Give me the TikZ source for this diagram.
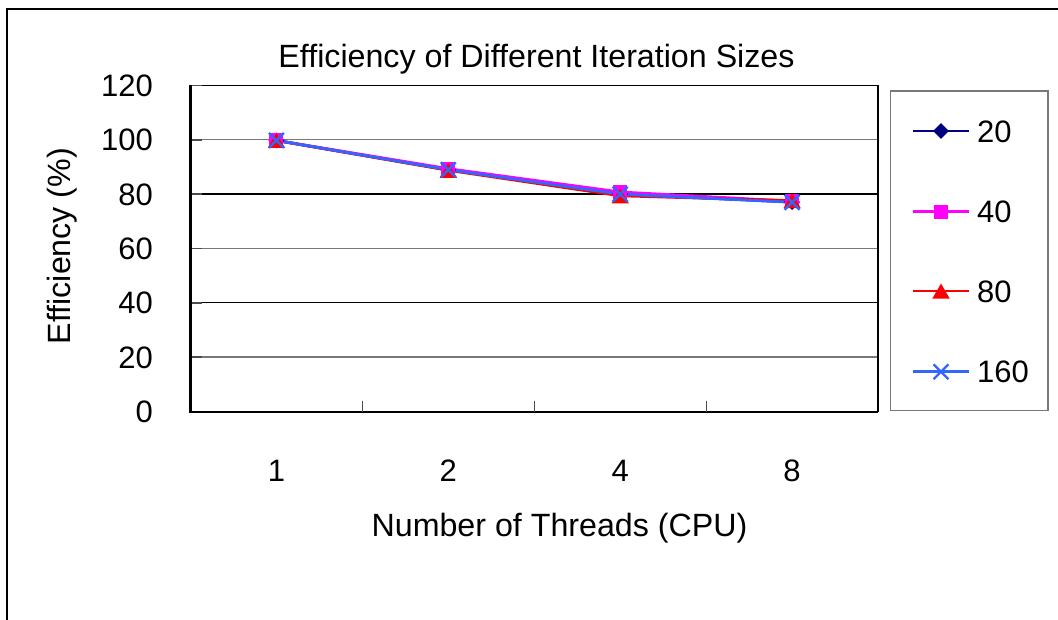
\documentclass[tikz,border=0pt]{standalone}
\usepackage{fontspec}
\setmainfont{Liberation Sans}
\usetikzlibrary{shapes.geometric,shapes.misc}
\definecolor{snavy}{RGB}{0,0,128}
\definecolor{smag}{RGB}{255,0,255}
\definecolor{sred}{RGB}{255,0,0}
\definecolor{sblue}{RGB}{51,102,255}
\definecolor{gridgray}{RGB}{120,120,120}
\begin{document}
\begin{tikzpicture}[x=1pt,y=-1pt,
  txt/.style={font=\fontsize{31}{37}\selectfont,inner sep=0pt},
  ttl/.style={font=\fontsize{32.2}{38}\selectfont,inner sep=0pt},
  gridline/.style={gridgray,line width=1.2pt},
  gridblack/.style={black,line width=1.2pt},
  serline/.style={line width=2.8pt},
  mdia/.style={diamond,fill=snavy,minimum size=16pt,inner sep=0pt},
  msq/.style={rectangle,fill=smag,minimum size=14pt,inner sep=0pt},
  mtri/.style={regular polygon,regular polygon sides=3,fill=sred,minimum size=20pt,inner sep=0pt,yshift=-2.5pt},
  mx/.style={cross out,draw=sblue,line width=2.4pt,minimum size=12.5pt,inner sep=0pt}]
\useasboundingbox (0,0) rectangle (1058,619);
% outer frame
\draw[line width=1.6pt] (7,625) -- (7,9) -- (1065,9);
% title
\node[ttl,anchor=base] (title) at (536.5,67) {Efficiency of Different Iteration Sizes};
% grid lines
\draw[gridline] (190.5,139.75) -- (878,139.75);
\draw[gridblack] (190.5,194) -- (878,194);
\draw[gridline] (190.5,248.5) -- (878,248.5);
\draw[gridblack] (190.5,302.7) -- (878,302.7);
\draw[gridline] (190.5,357) -- (878,357);
% plot frame
\draw[line width=1.4pt] (190.5,85.5) -- (878,85.5) -- (878,411.7);
\draw[line width=1.8pt] (190.5,411.7) -- (878,411.7);
% y ticks (inward)
\foreach \yy in {85.5,139.75,194,248.5,302.7,357}
  \draw[line width=1.6pt,black!70] (190.5,\yy) -- (201.5,\yy);
% x ticks (inward)
\foreach \xx in {362.4,534.3,706.2}
  \draw[line width=1.4pt,black!70] (\xx,411.7) -- (\xx,401);
\draw[line width=2.6pt] (190.5,84.5) -- (190.5,413);
% y tick labels
\foreach \v/\yy in {120/85.5,100/139.75,80/194,60/248.5,40/302.7,20/357,0/411.7}
  \node[txt,anchor=base east] (yl\v) at (153,\yy+11) {\v};
% x tick labels
\foreach \lab/\xx in {1/276.4,2/448.3,4/620.2,8/792.1}
  \node[txt,anchor=base] (xl\lab) at (\xx,481) {\lab};
% axis titles
\node[ttl,anchor=base] (xtitle) at (559.5,536) {Number of Threads (CPU)};
\node[ttl,rotate=90] (ytitle) at (62,246) {Efficiency (\%)};
% data coordinates
\foreach \s/\va/\vb/\vc/\vd in {a/100/89.2/80.3/77.3, b/100/89.6/81.0/77.6, c/100/89.0/79.6/77.8, d/100/89.2/80.2/77.2}{
  \coordinate (\s1) at (276.4,{411.7-2.7125*\va});
  \coordinate (\s2) at (448.3,{411.7-2.7125*\vb});
  \coordinate (\s3) at (620.2,{411.7-2.7125*\vc});
  \coordinate (\s4) at (792.1,{411.7-2.7125*\vd});
}
\draw[serline,snavy] (a1) -- (a2) -- (a3) -- (a4);
\draw[serline,smag] (b1) -- (b2) -- (b3) -- (b4);
\draw[serline,sred] (c1) -- (c2) -- (c3) -- (c4);
\draw[serline,sblue] (d1) -- (d2) -- (d3) -- (d4);
\foreach \i in {1,2,3,4}{
  \node[mdia] at (a\i) {};
  \node[msq] at (b\i) {};
  \node[mtri] at (c\i) {};
  \node[mx] at (d\i) {};
}
% legend
\draw[gridgray,line width=1.3pt] (890.7,91) rectangle (1048,410.7);
\foreach \s/\lab/\yy/\sty/\col in {a/20/131/mdia/snavy, b/40/211.7/msq/smag, c/80/291/mtri/sred, d/160/371.7/mx/sblue}{
  \coordinate (lg\s l) at (913,\yy);
  \coordinate (lg\s r) at (969,\yy);
  \draw[serline,\col] (lg\s l) -- (lg\s r);
  \node[\sty] (lgm\s) at (941,\yy) {};
  \node[txt,anchor=base west] (lgt\s) at (977,\yy+11) {\lab};
}
\end{tikzpicture}
\end{document}
